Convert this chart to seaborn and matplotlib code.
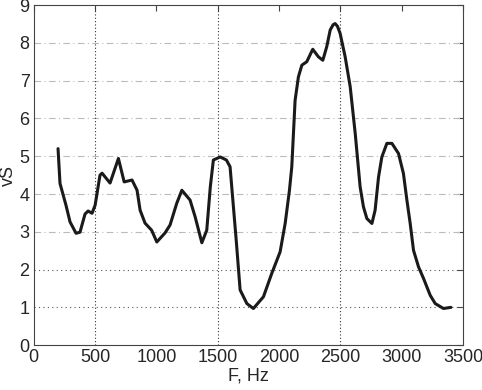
import numpy as np
import pandas as pd
import matplotlib
matplotlib.use('Agg')
import matplotlib.pyplot as plt
import seaborn as sns

# Values
freq = [198, 214, 263, 296, 345, 377, 418, 443, 475, 500, 540, 557, 622, 690, 737,
        801, 842, 867, 907, 961, 1003, 1070, 1111, 1165, 1207, 1274, 1315, 1370,
        1410, 1439, 1464, 1519, 1570, 1600, 1650, 1682, 1737, 1790, 1872, 1940,
        2008, 2049, 2084, 2103, 2130, 2157, 2185, 2225, 2274, 2320, 2356, 2388,
        2416, 2440, 2456, 2475, 2497, 2538, 2579, 2620, 2660, 2687, 2715, 2756,
        2782, 2810, 2837, 2878, 2919, 2973, 3013, 3041, 3068, 3095, 3136, 3176,
        3231, 3272, 3339, 3400]
vs = [5.20, 4.28, 3.70, 3.26, 2.96, 2.99, 3.47, 3.55, 3.49, 3.70, 4.50, 4.55,
      4.29, 4.94, 4.32, 4.37, 4.10, 3.57, 3.23, 3.04, 2.73, 2.97, 3.18, 3.75,
      4.10, 3.84, 3.40, 2.71, 3.04, 4.19, 4.90, 4.98, 4.90, 4.72, 2.78, 1.46,
      1.10, 0.97, 1.28, 1.90, 2.47, 3.22, 4.10, 4.72, 6.48, 7.10, 7.41, 7.50,
      7.83, 7.63, 7.54, 7.90, 8.34, 8.48, 8.51, 8.44, 8.25, 7.63, 6.84, 5.60,
      4.19, 3.66, 3.35, 3.22, 3.57, 4.45, 4.98, 5.34, 5.34, 5.07, 4.54, 3.84,
      3.22, 2.51, 2.07, 1.77, 1.32, 1.10, 0.97, 1.00]

df = pd.DataFrame({'F': freq, 'vS': vs})

sns.set_style('white')
plt.rcParams['font.family'] = ['Liberation Sans', 'DejaVu Sans']

fig = plt.figure(figsize=(4.82, 3.90), dpi=100)
ax = fig.add_axes([0.070, 0.115, 0.891, 0.872])

# grid lines as in the reference
for yv in [1, 2]:
    ax.axhline(yv, color='#555555', lw=0.8, ls=(0, (1, 3)), zorder=1)
for yv in range(3, 9):
    ax.axhline(yv, color='#bbbbbb', lw=0.8, ls=(0, (6, 3, 1, 3)), zorder=1)
for xv in [500, 1500, 2500]:
    ax.axvline(xv, color='#333333', lw=0.8, ls=(0, (1, 2)), zorder=1)

line = sns.lineplot(data=df, x='F', y='vS', sort=False, color='#1a1a1a', lw=2.2, ax=ax, zorder=3)
for l in ax.lines[-1:]:
    l.set_solid_joinstyle('round')
    l.set_solid_capstyle('round')

ax.set_xlim(0, 3500)
ax.set_ylim(0, 9)
ax.set_xticks(range(0, 3501, 500))
ax.set_yticks(range(0, 10))
ax.set_xlabel('F, Hz', fontsize=13, labelpad=1)
ax.set_ylabel('vS', fontsize=13, labelpad=2)
ax.tick_params(axis='both', direction='in', length=4, width=0.8, labelsize=13,
               top=True, right=True, color='#444444', pad=3)
for s in ax.spines.values():
    s.set_color('#444444')
    s.set_linewidth(0.8)

fig.savefig('out.png', dpi=100)
